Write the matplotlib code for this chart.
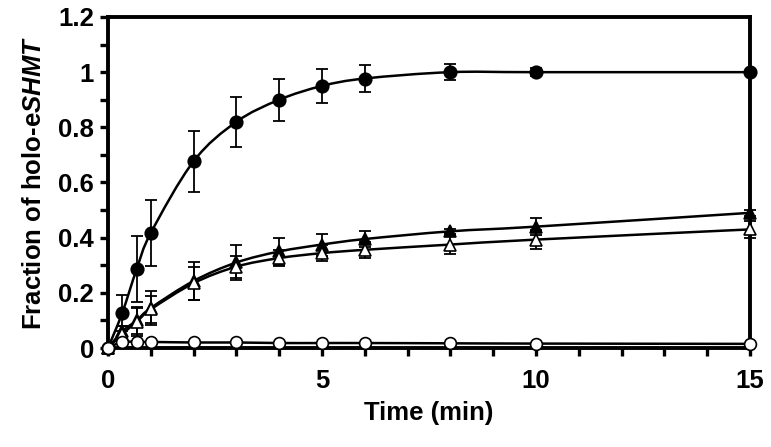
import matplotlib
matplotlib.use("Agg")
import matplotlib.pyplot as plt
from matplotlib.path import Path
from matplotlib.patches import PathPatch
from matplotlib.ticker import MultipleLocator, FixedLocator
import numpy as np

plt.rcParams['font.family'] = ['Liberation Sans', 'DejaVu Sans']
plt.rcParams['font.weight'] = 'bold'
plt.rcParams['mathtext.fontset'] = 'custom'
plt.rcParams['mathtext.it'] = 'Liberation Sans:bold:italic'
plt.rcParams['mathtext.rm'] = 'Liberation Sans:bold'
plt.rcParams['mathtext.bf'] = 'Liberation Sans:bold'

time = [0, 0.33, 0.67, 1, 2, 3, 4, 5, 6, 8, 10, 15]

filled_circle = [0, 0.126, 0.286, 0.417, 0.677, 0.82, 0.90, 0.95, 0.977, 1.0, 1.0, 1.0]
filled_circle_err = [0, 0.065, 0.12, 0.12, 0.11, 0.09, 0.077, 0.06, 0.048, 0.03, 0.015, 0.0]

filled_tri = [0, 0.06, 0.10, 0.145, 0.243, 0.31, 0.35, 0.375, 0.395, 0.423, 0.44, 0.49]
filled_tri_err = [0, 0.02, 0.05, 0.06, 0.07, 0.062, 0.05, 0.04, 0.03, 0.01, 0.03, 0.01]

open_tri = [0, 0.05, 0.095, 0.14, 0.235, 0.295, 0.326, 0.344, 0.356, 0.375, 0.393, 0.43]
open_tri_err = [0, 0.03, 0.05, 0.05, 0.06, 0.04, 0.03, 0.03, 0.03, 0.035, 0.035, 0.03]

open_circle = [0, 0.022, 0.022, 0.022, 0.02, 0.02, 0.018, 0.018, 0.018, 0.017, 0.016, 0.015]

xticks = [0, 5, 10, 15]
yticks = [0, 0.2, 0.4, 0.6, 0.8, 1.0, 1.2]
ytick_labels = ['0', '0.2', '0.4', '0.6', '0.8', '1', '1.2']


def smooth_path(x, y):
    x = np.asarray(x, float)
    y = np.asarray(y, float)
    n = len(x)
    verts = [(x[0], y[0])]
    codes = [Path.MOVETO]
    for i in range(n - 1):
        p0 = np.array([x[max(i - 1, 0)], y[max(i - 1, 0)]])
        p1 = np.array([x[i], y[i]])
        p2 = np.array([x[i + 1], y[i + 1]])
        p3 = np.array([x[min(i + 2, n - 1)], y[min(i + 2, n - 1)]])
        c1 = p1 + (p2 - p0) / 6.0
        c2 = p2 - (p3 - p1) / 6.0
        verts += [tuple(c1), tuple(c2), tuple(p2)]
        codes += [Path.CURVE4] * 3
    return Path(verts, codes)


fig = plt.figure(figsize=(7.71, 4.47), dpi=100)
ax = fig.add_axes([108 / 771, (447 - 348) / 447, (750 - 108) / 771, (348 - 17) / 447])

series = [
    (filled_circle, filled_circle_err, 'o', 'black', 9),
    (filled_tri, filled_tri_err, '^', 'black', 9),
    (open_tri, open_tri_err, '^', 'white', 9),
    (open_circle, None, 'o', 'white', 8.5),
]

for vals, err, mk, fc, ms in series:
    ax.add_patch(PathPatch(smooth_path(time, vals), fill=False, lw=1.8,
                           edgecolor='black', zorder=2))
for vals, err, mk, fc, ms in series:
    if err is not None:
        ax.errorbar(time, vals, yerr=err, fmt='none', ecolor='black',
                    elinewidth=1.3, capsize=4, capthick=1.3, zorder=3, clip_on=False)
for vals, err, mk, fc, ms in series:
    ax.plot(time, vals, linestyle='none', marker=mk, markersize=ms,
            markerfacecolor=fc, markeredgecolor='black', markeredgewidth=1.2,
            zorder=4, clip_on=False)

ax.set_xlim(0, 15)
ax.set_ylim(0, 1.2)
ax.xaxis.set_major_locator(FixedLocator(xticks))
ax.xaxis.set_minor_locator(MultipleLocator(1))
ax.yaxis.set_major_locator(FixedLocator(yticks))
ax.set_yticklabels(ytick_labels)
ax.yaxis.set_minor_locator(MultipleLocator(0.1))

for s in ax.spines.values():
    s.set_linewidth(2.8)
ax.tick_params(which='both', direction='out', width=2.4, length=6, labelsize=18.5)
ax.tick_params(axis='x', pad=9)
ax.tick_params(axis='y', pad=4)
ax.tick_params(top=False, right=False, which='both')
for lab in ax.get_xticklabels() + ax.get_yticklabels():
    lab.set_fontweight('bold')

ax.set_xlabel('Time (min)', fontsize=18.5, fontweight='bold', labelpad=6)
ax.set_ylabel('Fraction of holo-e$\\mathit{SHMT}$', fontsize=18.5, fontweight='bold', labelpad=9)

fig.savefig('out.png', dpi=100)
